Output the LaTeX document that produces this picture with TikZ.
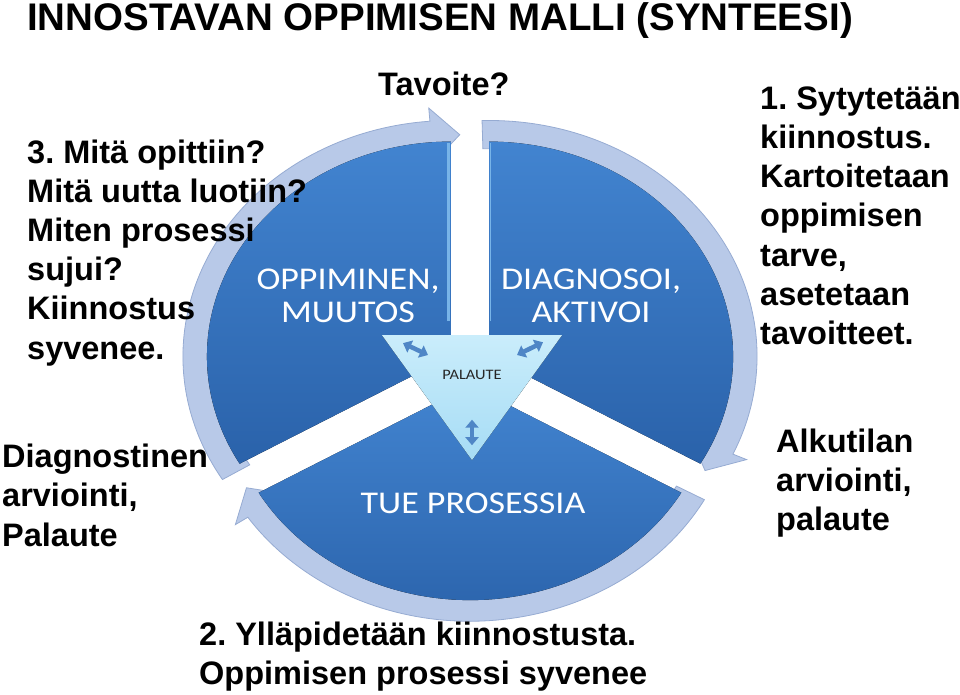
\documentclass[tikz,border=0pt]{standalone}
\usepackage{fontspec}
\setmainfont{Liberation Sans}
\newfontfamily\calibrifont{Carlito}
\usepackage{tikz}
\usetikzlibrary{arrows.meta}

\definecolor{pietop}{RGB}{66,132,208}
\definecolor{piebot}{RGB}{42,98,170}
\definecolor{pieedge}{RGB}{120,180,232}
\definecolor{band}{RGB}{184,201,232}
\definecolor{bandedge}{RGB}{150,171,210}
\definecolor{tritop}{RGB}{202,237,251}
\definecolor{tribot}{RGB}{166,220,245}
\definecolor{dblarrow}{RGB}{79,134,198}

\begin{document}
\frenchspacing
\begin{tikzpicture}[x=1pt,y=1pt,
  bigtext/.style={font=\bfseries\fontsize{32.5}{39.2}\selectfont, align=left, inner sep=0pt},
  sector/.style={top color=pietop, bottom color=piebot},
  ring/.style={fill=band, draw=bandedge, line width=0.8pt},
  seclabel/.style={font=\calibrifont\fontsize{36}{37.5}\selectfont, text=white, align=center, transform shape, inner sep=0pt},
  feedback/.style={draw=dblarrow, line width=4.5pt, {Triangle[width=13pt,length=8pt]}-{Triangle[width=13pt,length=8pt]}}]
\useasboundingbox (0,0) rectangle (960,-694);

\node[anchor=base west, inner sep=0pt, font=\bfseries\fontsize{38.5}{44}\selectfont] (title) at (27,-30) {INNOSTAVAN OPPIMISEN MALLI (SYNTEESI)};

\begin{scope}[shift={(470,-366)}, yscale=0.88]
% arrows round the pie
\foreach \off/\s/\b/\t in {150/211.5/94.5/88, 30/91.5/-24.5/-31, 270/331/214/207.5}
  \filldraw[ring, shift={(\off:22)}] (\s:268) arc[start angle=\s, end angle=\b, radius=268]
    -- (\b:283) -- (\t:252) -- (\b:221) -- (\b:236) arc[start angle=\b, end angle=\s, radius=236] -- cycle;
% the three pieces
\foreach \off/\a/\b in {150/90/210, 30/-30/90, 270/210/330}
  \fill[sector, shift={(\off:22)}] (0,0) -- (\a:244) arc[start angle=\a, end angle=\b, radius=244] -- cycle;
\draw[pieedge, line width=3pt] ([shift={(150:22)}]-2,40) -- ([shift={(150:22)}]-2,242);
\draw[pieedge, line width=1.5pt] ([shift={(30:22)}]1.5,40) -- ([shift={(30:22)}]1.5,242);
\fill[top color=tritop, bottom color=tribot] (-88,35) -- (92,35) -- (2,-107) -- cycle;
\draw[feedback] (-67,26) -- (-42,12.5);
\draw[feedback] (47,12.5) -- (73,27);
\draw[feedback] (2,-61) -- (2,-90);
\node[seclabel] (oppiminen) at (-122,80) {OPPIMINEN,\\MUUTOS};
\node[seclabel] (diagnosoi) at (121,80) {DIAGNOSOI,\\AKTIVOI};
\node[seclabel, anchor=base] (tue) at (3,-168) {TUE PROSESSIA};
\node[font=\calibrifont\fontsize{16.4}{18}\selectfont, text=black!85, transform shape, anchor=base, inner sep=0pt] (palaute) at (2,-14.8) {PALAUTE};
\end{scope}

\node[bigtext, anchor=base west] (tavoite) at (378,-95) {Tavoite?};
\node[bigtext, anchor=north west] (opittiin) at (27,-139.3) {3. Mitä opittiin?\\Mitä uutta luotiin?\\Miten prosessi\\sujui?\\Kiinnostus\\syvenee.};
\node[bigtext, anchor=north west] (sytytetaan) at (760,-86.3) {1. Sytytetään\\kiinnostus.\\Kartoitetaan\\oppimisen\\tarve,\\asetetaan\\tavoitteet.};
\node[bigtext, anchor=north west] (diagnostinen) at (2,-444) {Diagnostinen\\arviointi,\\Palaute};
\node[bigtext, anchor=north west] (alkutilan) at (776,-428.5) {Alkutilan\\arviointi,\\palaute};
\node[bigtext, anchor=north west] (yllapidetaan) at (199,-621.5) {2. Ylläpidetään kiinnostusta.\\Oppimisen prosessi syvenee};
\end{tikzpicture}
\end{document}
